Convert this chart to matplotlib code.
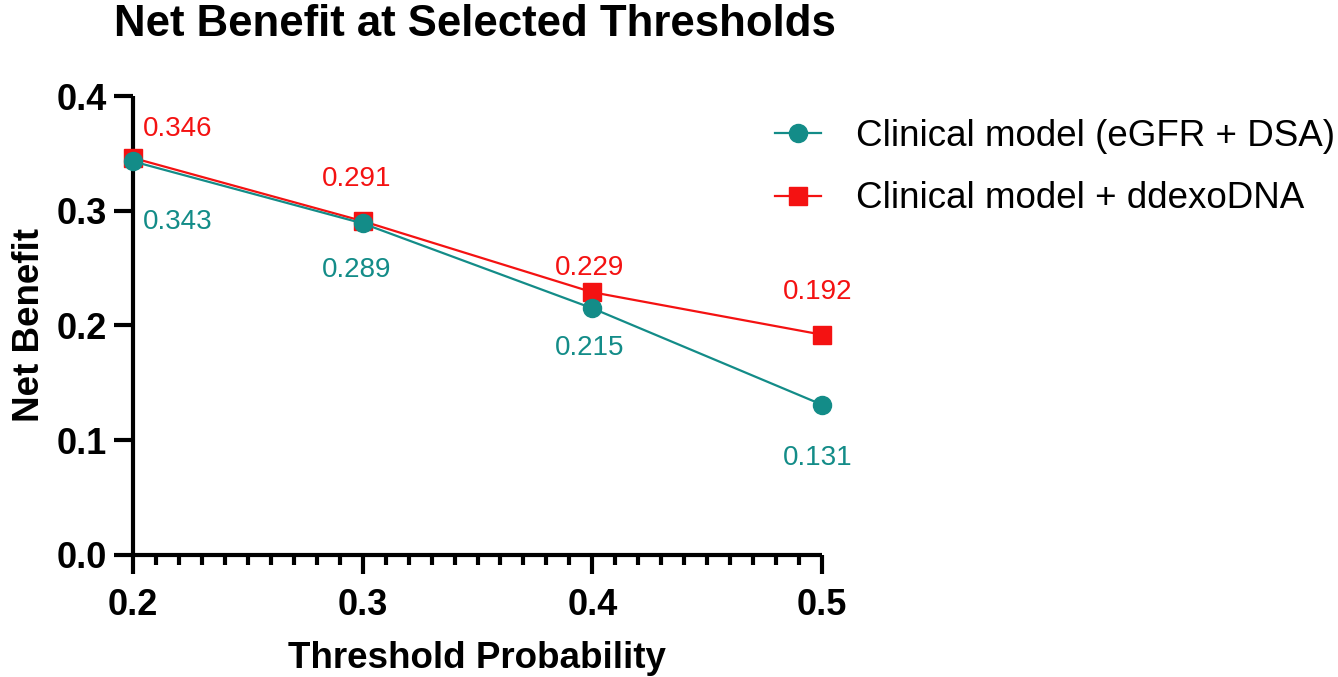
import matplotlib as mplt
mplt.use("Agg")
import matplotlib.pyplot as plt
from matplotlib.ticker import MultipleLocator

plt.rcParams["font.family"] = ["Liberation Sans", "DejaVu Sans"]

# data
thresholds = [0.2, 0.3, 0.4, 0.5]
nb_clinical = [0.343, 0.289, 0.215, 0.131]
nb_exo = [0.346, 0.291, 0.229, 0.192]
label_clinical = "Clinical model (eGFR + DSA)"
label_exo = "Clinical model + ddexoDNA"

teal = "#138c88"
red = "#f41212"

# label offsets in pixels (dx, dy)
offs_clinical = [(45, -61), (-6, -47), (-3, -40), (-4, -53)]
offs_exo = [(45, 29), (-6, 42), (-3, 24), (-4, 43)]

fig = plt.figure(figsize=(13.38, 6.77), dpi=100)
ax = fig.add_axes([133 / 1338, 1 - 555 / 677, 689 / 1338, 459 / 677])

ax.plot(thresholds, nb_clinical, "-o", color=teal, lw=1.6, ms=13,
        label=label_clinical, clip_on=False, zorder=4)
ax.plot(thresholds, nb_exo, "-s", color=red, lw=1.6, ms=12.5,
        label=label_exo, clip_on=False, zorder=3)

for x, y, (dx, dy) in zip(thresholds, nb_clinical, offs_clinical):
    ax.annotate(f"{y:.3f}", (x, y), xytext=(dx, dy), textcoords="offset pixels",
                ha="center", va="center", color=teal, fontsize=20)
for x, y, (dx, dy) in zip(thresholds, nb_exo, offs_exo):
    ax.annotate(f"{y:.3f}", (x, y), xytext=(dx, dy), textcoords="offset pixels",
                ha="center", va="center", color=red, fontsize=20)

ax.set_xlim(0.2, 0.5)
ax.set_ylim(0, 0.4)
ax.xaxis.set_major_locator(MultipleLocator(0.1))
ax.xaxis.set_minor_locator(MultipleLocator(0.01))
ax.yaxis.set_major_locator(MultipleLocator(0.1))
ax.set_xticklabels([f"{v:.1f}" for v in ax.get_xticks()])
ax.set_yticklabels([f"{v:.1f}" for v in ax.get_yticks()])

for side in ["top", "right"]:
    ax.spines[side].set_visible(False)
for side in ["left", "bottom"]:
    ax.spines[side].set_linewidth(3)
    ax.spines[side].set_capstyle("butt")

ax.tick_params(axis="both", which="major", length=14, width=3)
ax.tick_params(axis="x", which="minor", length=7, width=3)
ax.tick_params(axis="x", which="major", pad=10)
ax.tick_params(axis="y", which="major", pad=5)
for lab in ax.get_xticklabels() + ax.get_yticklabels():
    lab.set_fontsize(26)
    lab.set_fontweight("bold")

ax.set_xlabel("Threshold Probability", fontsize=26.5, fontweight="bold", labelpad=13)
ax.set_ylabel("Net Benefit", fontsize=26.5, fontweight="bold", labelpad=7)

fig.text(475 / 1338, 1 - 25 / 677, "Net Benefit at Selected Thresholds",
         ha="center", va="center", fontsize=31.5, fontweight="bold")

ax.legend(loc="center left", bbox_to_anchor=(0.932, 0.844), frameon=False,
          fontsize=26.5, handlelength=1.25, handletextpad=0.95, labelspacing=0.75,
          borderpad=0, borderaxespad=0)

fig.savefig("out.png", dpi=100)
